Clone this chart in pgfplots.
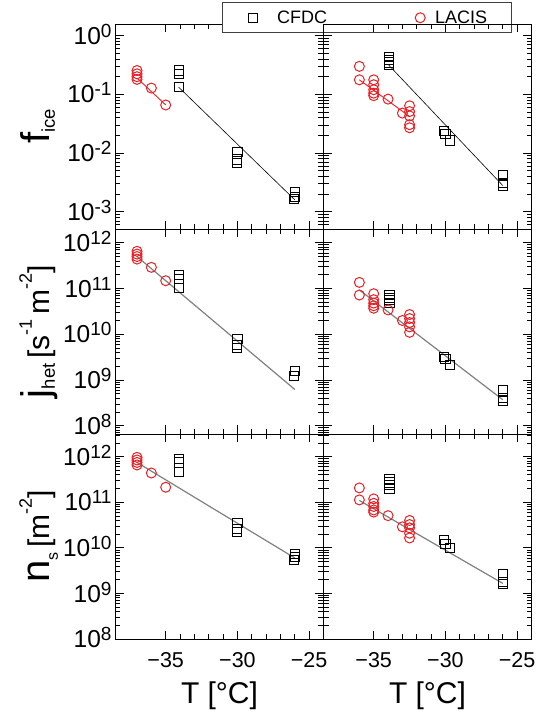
\documentclass[border=0pt]{standalone}
\usepackage{fontspec}
\setmainfont{Liberation Sans}
\usepackage{pgfplots}
\pgfplotsset{compat=1.18}
\definecolor{lred}{RGB}{232,32,38}
\definecolor{fitgray}{RGB}{128,128,128}
\newcommand{\fs}[1]{\fontsize{#1}{#1}\selectfont}
\pgfplotsset{
  every axis/.append style={
    scale only axis, width=208pt, height=205pt,
    xmin=-38.5, xmax=-24,
    xtick={-35,-30,-25}, minor x tick num=4,
    tick align=inside,
    major tick length=8.5pt, minor tick length=5pt,
    every tick/.append style={line width=0.8pt, black},
    axis line style={line width=0.9pt},
    xticklabels={−35,−30,−25},
    xticklabel style={font=\fs{21.5}, anchor=base, yshift=-29pt, inner sep=0pt},
    yticklabel style={font=\fs{24.5}, anchor=base east, yshift=-8.6pt, xshift=-3.8pt, inner sep=0pt},
    xlabel style={font=\fs{30}, at={(axis description cs:0.5,0)}, anchor=base, yshift=-64.3pt},
    ylabel style={at={(axis description cs:-0.315,0.5)}, anchor=base},
  },
}
\newcommand{\logtl}{10\raisebox{7pt}{\fs{19}\pgfmathparse{int(round(\tick/ln(10)))}\pgfmathresult}}
\begin{document}
\begin{tikzpicture}
\useasboundingbox (0pt,0pt) rectangle (539pt,716pt);
% ---------- top left
\begin{semilogyaxis}[at={(115.5pt,487pt)}, anchor=south west,
  ymin=5.1e-4, ymax=1.58, xticklabels={}, yticklabel={\logtl},
  ylabel={\fs{40}f\raisebox{-5pt}{\fs{18.5}ice}},
  legend columns=2,
  legend style={at={(axis description cs:0.51,1.106)}, anchor=north west,
    draw=black!75, line width=0.9pt, font=\fs{18}, inner xsep=26pt, inner ysep=6pt,
    /tikz/every even column/.append style={column sep=86pt}}]
\addplot[forget plot, black, line width=0.6pt] coordinates {(-34.1,0.133) (-26,0.0016)};
\addplot[forget plot, lred, line width=0.9pt] coordinates {(-37,0.19) (-35,0.066)};
\addplot[only marks, mark=square, mark size=4.6pt, black, mark options={line width=1pt}] table {
x y
-34.1 0.255
-34.1 0.224
-34.1 0.133
-30.0 0.0105
-30.05 0.0078
-30.05 0.0068
-26.0 0.00217
-26.0 0.00181
-26.05 0.00163
};
\addlegendentry{\hspace*{18pt}CFDC}
\addplot[only marks, mark=o, mark size=5pt, lred, mark options={line width=1pt}] table {
x y
-37 0.255
-37 0.224
-37 0.200
-37 0.180
-36 0.128
-35 0.066
};
\addlegendentry{\hspace*{8pt}LACIS\hspace*{-4pt}}
\end{semilogyaxis}
% ---------- top right
\begin{semilogyaxis}[at={(323.5pt,487pt)}, anchor=south west,
  ymin=5.1e-4, ymax=1.58, xticklabels={}, yticklabels={}]
\addplot[black, line width=0.6pt] coordinates {(-33.95,0.315) (-26,0.0028)};
\addplot[lred, line width=0.9pt] coordinates {(-36,0.177) (-32.5,0.042)};
\addplot[only marks, mark=square, mark size=4.6pt, black, mark options={line width=1pt}] table {
x y
-33.95 0.43
-33.95 0.39
-33.95 0.35
-33.95 0.315
-30.1 0.024
-30.0 0.021
-29.7 0.0164
-26.0 0.0043
-26.0 0.0031
-26.0 0.0028
};
\addplot[only marks, mark=o, mark size=5pt, lred, mark options={line width=1pt}] table {
x y
-36 0.30
-36 0.177
-35 0.177
-35 0.146
-35 0.12
-35 0.105
-35 0.095
-34 0.083
-33 0.048
-32.5 0.064
-32.5 0.051
-32.5 0.043
-32.5 0.0305
-32.5 0.027
};
\end{semilogyaxis}
% ---------- middle left
\begin{semilogyaxis}[at={(115.5pt,282pt)}, anchor=south west,
  ymin=6.6e7, ymax=2.0e12, xticklabels={}, yticklabel={\logtl},
  ylabel={\fs{40}j\raisebox{-5pt}{\fs{18.5}het}\fs{30}\,[s\raisebox{18pt}{\fs{18}-1}\,m\raisebox{18pt}{\fs{18}-2}]}]
\addplot[fitgray, line width=1.2pt] coordinates {(-37,5e11) (-26,6.2e8)};
\addplot[only marks, mark=square, mark size=4.6pt, black, mark options={line width=1pt}] table {
x y
-34.1 2.0e11
-34.1 1.6e11
-34.1 1.02e11
-30.0 7.85e9
-30.05 5.9e9
-30.05 5.0e9
-26.0 1.6e9
-26.05 1.23e9
};
\addplot[only marks, mark=o, mark size=5pt, lred, mark options={line width=1pt}] table {
x y
-37 6.5e11
-37 5.66e11
-37 5.0e11
-37 4.4e11
-36 2.9e11
-35 1.48e11
};
\end{semilogyaxis}
% ---------- middle right
\begin{semilogyaxis}[at={(323.5pt,282pt)}, anchor=south west,
  ymin=6.6e7, ymax=2.0e12, xticklabels={}, yticklabels={}]
\addplot[fitgray, line width=1.2pt] coordinates {(-36,9.3e10) (-26,3.7e8)};
\addplot[only marks, mark=square, mark size=4.6pt, black, mark options={line width=1pt}] table {
x y
-33.9 7.2e10
-33.9 6.3e10
-33.9 5.6e10
-33.9 4.9e10
-30.1 3.2e9
-30.0 2.85e9
-29.7 2.14e9
-26.0 5.9e8
-26.0 4.0e8
-26.0 3.5e8
};
\addplot[only marks, mark=o, mark size=5pt, lred, mark options={line width=1pt}] table {
x y
-36 1.36e11
-36 7.2e10
-35 7.7e10
-35 5.7e10
-35 4.8e10
-35 4.2e10
-35 3.7e10
-34 3.4e10
-33 2.0e10
-32.5 2.7e10
-32.5 2.2e10
-32.5 1.8e10
-32.5 1.45e10
-32.5 1.1e10
};
\end{semilogyaxis}
% ---------- bottom left
\begin{semilogyaxis}[at={(115.5pt,77pt)}, anchor=south west,
  ymin=1e8, ymax=3.16e12, xlabel={T [°C]}, yticklabel={\logtl},
  ylabel={\fs{40}n\raisebox{-8pt}{\fs{16}s}\fs{30}\,[m\raisebox{18pt}{\fs{18}-2}]}]
\addplot[fitgray, line width=1.2pt] coordinates {(-37,7.5e11) (-26,6.0e9)};
\addplot[only marks, mark=square, mark size=4.6pt, black, mark options={line width=1pt}] table {
x y
-34.1 8.9e11
-34.1 7.5e11
-34.1 4.55e11
-30.0 3.5e10
-30.05 2.6e10
-30.05 2.2e10
-26.0 7.2e9
-26.0 6.3e9
-26.05 5.5e9
};
\addplot[only marks, mark=o, mark size=5pt, lred, mark options={line width=1pt}] table {
x y
-37 9.7e11
-37 8.5e11
-37 7.5e11
-37 6.6e11
-36 4.4e11
-35 2.14e11
};
\end{semilogyaxis}
% ---------- bottom right
\begin{semilogyaxis}[at={(323.5pt,77pt)}, anchor=south west,
  ymin=1e8, ymax=3.16e12, xlabel={T [°C]}, yticklabels={}]
\addplot[fitgray, line width=1.2pt] coordinates {(-36,1.1e11) (-26,1.66e9)};
\addplot[only marks, mark=square, mark size=4.6pt, black, mark options={line width=1pt}] table {
x y
-33.9 3.2e11
-33.9 2.73e11
-33.9 2.4e11
-33.9 2.0e11
-30.1 1.46e10
-30.0 1.24e10
-29.7 1.0e10
-26.0 2.6e9
-26.0 1.8e9
-26.0 1.6e9
};
\addplot[only marks, mark=o, mark size=5pt, lred, mark options={line width=1pt}] table {
x y
-36 2.07e11
-36 1.13e11
-35 1.19e11
-35 9.5e10
-35 8.1e10
-35 6.8e10
-35 6.1e10
-34 5.1e10
-33 2.9e10
-32.5 4.0e10
-32.5 3.25e10
-32.5 2.75e10
-32.5 2.1e10
-32.5 1.65e10
};
\end{semilogyaxis}
\end{tikzpicture}
\end{document}
